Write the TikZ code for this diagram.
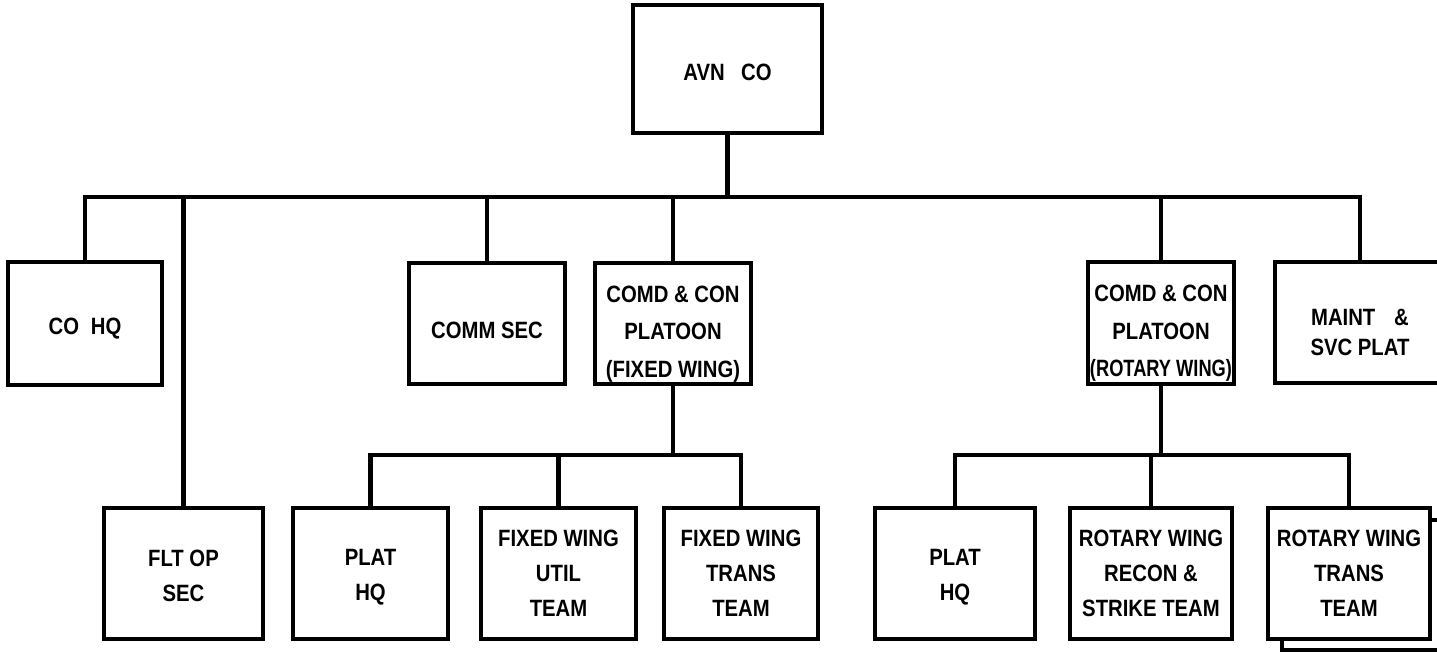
\documentclass[tikz,border=0pt]{standalone}
\usepackage{fontspec}
\setmainfont{Liberation Sans}[FakeStretch=0.86]
\newcommand\lowerby[1]{\rule{0pt}{\dimexpr 8.6pt+#1\relax}}
\begin{document}
\begin{tikzpicture}[x=0.5pt,y=-0.5pt,
  box/.style={draw, line width=2.1pt, fill=white, inner sep=0pt, align=center,
    font=\bfseries\fontsize{11.8}{17.5}\selectfont},
  conn/.style={line width=2.1pt}]
\newcommand\orgbox[6]{%
  \node[box, minimum width={(#4-#2)*0.5pt}, minimum height={(#5-#3)*0.5pt}]
    (#1) at ({(#2+#4)/2},{(#3+#5)/2}) {#6};}
\useasboundingbox (0,0) rectangle (1437,653);
\clip (0,0) rectangle (1437,653);
% top
\orgbox{avn}{633}{5}{822}{133}{\lowerby{3pt}AVN\hspace{0.7em}CO}
% second row
\orgbox{cohq}{8}{262}{162}{385}{\lowerby{5pt}CO\hspace{0.5em}HQ}
\orgbox{comm}{409}{263}{565}{384}{\lowerby{7pt}COMM SEC}
\orgbox{fix}{595}{263}{751}{384}{\lowerby{10pt}COMD \& CON\\[1.2pt]PLATOON\\[1.2pt](FIXED WING)}
\orgbox{rot}{1088}{262}{1234}{384}{\lowerby{10pt}COMD \& CON\\[1.2pt]PLATOON\\[1.2pt]\scalebox{0.9}[1]{(ROTARY WING)}}
\orgbox{maint}{1275}{262}{1445}{383}{\lowerby{10pt}MAINT\hspace{0.8em}\&\\[-2.5pt]SVC PLAT}
% third row
\orgbox{fltop}{104}{508}{263}{639}{\lowerby{2pt}FLT OP\\SEC}
\orgbox{fhq}{293}{508}{448}{639}{\lowerby{3pt}PLAT\\HQ}
\orgbox{fut}{481}{508}{636}{639}{FIXED WING\\UTIL\\TEAM}
\orgbox{ftr}{664}{508}{818}{639}{FIXED WING\\TRANS\\TEAM}
\orgbox{rhq}{875}{508}{1035}{639}{\lowerby{3pt}PLAT\\HQ}
\orgbox{rrs}{1070}{508}{1232}{639}{ROTARY WING\\RECON \&\\STRIKE TEAM}
\orgbox{rtrback}{1282}{520}{1470}{650}{}
\orgbox{rtr}{1268}{508}{1430}{639}{ROTARY WING\\TRANS\\TEAM}
% buses
\coordinate (tbus) at (725,197);
\coordinate (fbus) at (671,455);
\coordinate (rbus) at (1160,455);
% top level connectors
\draw[conn] (avn.south) -- (avn.south |- tbus);
\draw[conn] (cohq.north) |- (tbus) -| (maint.north);
\draw[conn] (fltop.north) -- (fltop.north |- tbus);
\draw[conn] (comm.north) -- (comm.north |- tbus);
\draw[conn] (fix.north) -- (fix.north |- tbus);
\draw[conn] (rot.north) -- (rot.north |- tbus);
% fixed wing platoon
\draw[conn] (fix.south) -- (fix.south |- fbus);
\draw[conn] (fhq.north) |- (fbus) -| (ftr.north);
\draw[conn] (fut.north) -- (fut.north |- fbus);
% rotary wing platoon
\draw[conn] (rot.south) -- (rot.south |- rbus);
\draw[conn] (rhq.north) |- (rbus) -| (rtr.north);
\draw[conn] (rrs.north) -- (rrs.north |- rbus);
\end{tikzpicture}
\end{document}
